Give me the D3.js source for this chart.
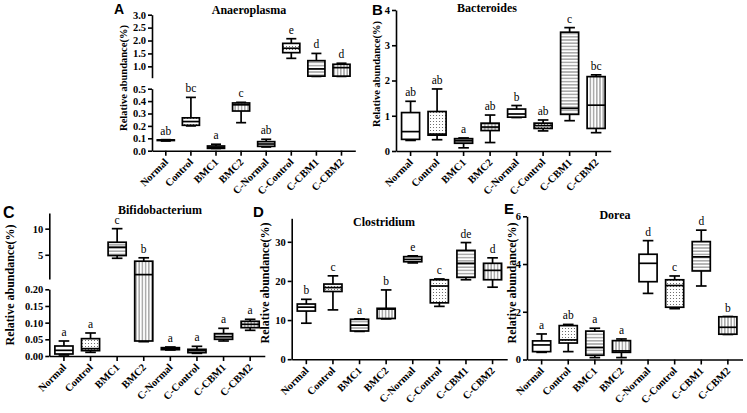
<!DOCTYPE html>
<html><head><meta charset="utf-8">
<script src="https://cdn.jsdelivr.net/npm/d3@7"></script>
<style>body{margin:0;background:#fff}svg{display:block}</style>
</head><body>
<svg id="c" width="747" height="413"></svg>
<script>
const categories = ["Normal","Control","BMC1","BMC2","C-Normal","C-Control","C-CBM1","C-CBM2"];

// [min, q1, median, q3, max] per category
const anaeroplasma = [[0.078,0.082,0.085,0.087,0.089],[0.20,0.205,0.235,0.265,0.43],[0.018,0.019,0.028,0.038,0.052],[0.226,0.32,0.37,0.385,0.39],[0.03,0.035,0.054,0.073,0.092],[1.31,1.53,1.70,1.89,2.07],[0.61,0.62,0.90,1.22,1.50],[0.61,0.62,0.95,1.08,1.12]];
const anaeroplasmaLetters = ["ab","bc","a","c","ab","e","d","d"];
const anaeroplasmaTicksLow = [0,0.1,0.2,0.3,0.4,0.5];
const anaeroplasmaTicksHigh = [1.0,1.5,2.0,2.5,3.0];

const bacteroides = [[0.30,0.33,0.55,1.09,1.41],[0.32,0.45,0.48,1.12,1.76],[0.09,0.22,0.29,0.35,0.37],[0.24,0.58,0.68,0.79,1.02],[0.95,0.96,1.05,1.19,1.29],[0.57,0.64,0.72,0.79,0.88],[0.86,1.04,1.21,3.37,3.50],[0.52,0.64,1.30,2.11,2.16]];
const bacteroidesLetters = ["ab","ab","a","ab","b","ab","c","bc"];
const bacteroidesTicks = [0,1,2,3,4];

const bifidobacterium = [[0.003,0.006,0.017,0.030,0.045],[0.011,0.016,0.022,0.052,0.069],[4.33,4.85,6.45,7.4,10.0],[0.043,0.045,1.2,3.77,4.42],[0.018,0.019,0.022,0.025,0.027],[0.008,0.010,0.016,0.020,0.029],[0.045,0.050,0.058,0.067,0.083],[0.077,0.085,0.095,0.104,0.11]];
const bifidobacteriumLetters = ["a","a","c","b","a","a","a","a"];
const bifidobacteriumTicksLow = [0,0.05,0.10,0.15,0.20];
const bifidobacteriumTicksHigh = [5,10];

const clostridium = [[9.2,12.3,13.3,14.1,15.3],[12.6,17.3,18.3,19.2,21.3],[7.1,7.2,8.7,10.2,10.3],[10.3,10.4,12.8,13.0,17.7],[24.6,24.9,25.5,26.2,26.4],[13.5,14.4,18.7,20.3,20.5],[20.3,20.9,24.5,27.8,29.8],[18.4,20.3,22.7,24.5,25.9]];
const clostridiumLetters = ["b","c","a","b","e","c","de","d"];
const clostridiumTicks = [0,10,20,30];

const dorea = [[0.30,0.33,0.61,0.78,1.07],[0.33,0.69,0.82,1.42,1.47],[0.08,0.18,0.5,1.19,1.31],[0.08,0.30,0.36,0.79,0.86],[2.77,3.26,4.03,4.41,4.98],[2.13,2.19,3.10,3.34,3.50],[3.08,3.71,4.3,4.94,5.42],[1.05,1.06,1.35,1.79,1.80]];
const doreaLetters = ["a","ab","a","a","d","c","d","b"];
const doreaTicks = [0,2,4,6];

const fills = ["none","dots","hlines","vlines","none","dots","hlines","vlines"];

const panels = [
  {tag:"A", title:"Anaeroplasma", data:anaeroplasma, letters:anaeroplasmaLetters, x0:152, x1:355.3,
   segs:[{dom:[0,0.5], rng:[150.7,88.7], ticks:anaeroplasmaTicksLow, fmt:".1f"},
         {dom:[0.56,3], rng:[77.7,14.7], ticks:anaeroplasmaTicksHigh, fmt:".1f"}],
   titleXY:[249,13.5], tagXY:[114,13.5], tagSize:14, ylab:[123,78], ylabSize:10.5, bmc2:"vlines"},
  {tag:"B", title:"Bacteroides", data:bacteroides, letters:bacteroidesLetters, x0:396, x1:610.7,
   segs:[{dom:[0,4], rng:[151,10], ticks:bacteroidesTicks, fmt:"d"}],
   titleXY:[487,12], tagXY:[372,15], tagSize:15, ylab:[376,74], ylabSize:10.5, bmc2:"grid"},
  {tag:"C", title:"Bifidobacterium", data:bifidobacterium, letters:bifidobacteriumLetters, x0:49.3, x1:264.8,
   segs:[{dom:[0,0.2], rng:[356,289.3], ticks:bifidobacteriumTicksLow, fmt:".2f"},
         {dom:[0.36,13], rng:[279,213], ticks:bifidobacteriumTicksHigh, fmt:"d"}],
   titleXY:[160,214], tagXY:[3,218], tagSize:16, ylab:[10,285], ylabSize:12, bmc2:"vlines"},
  {tag:"D", title:"Clostridium", data:clostridium, letters:clostridiumLetters, x0:291.7, x1:507.2,
   segs:[{dom:[0,36], rng:[359.2,218.3], ticks:clostridiumTicks, fmt:"d"}],
   titleXY:[384,226], tagXY:[253,217], tagSize:15, ylab:[265,283], ylabSize:12, bmc2:"vlines"},
  {tag:"E", title:"Dorea", data:dorea, letters:doreaLetters, x0:527, x1:742.5,
   segs:[{dom:[0,6], rng:[359.5,216.3], ticks:doreaTicks, fmt:"d"}],
   titleXY:[615,219], tagXY:[504,214], tagSize:15, ylab:[512,283], ylabSize:12, bmc2:"vlines"}
];

const svg = d3.select("#c");
const defs = svg.append("defs");
function pat(id, w, h, draw) {
  const p = defs.append("pattern").attr("id", id).attr("patternUnits","userSpaceOnUse").attr("width", w).attr("height", h);
  p.append("rect").attr("width", w).attr("height", h).attr("fill", "#fff");
  draw(p);
}
pat("dots", 3, 3, p => p.append("circle").attr("cx",1.5).attr("cy",1.5).attr("r",0.55).attr("fill","#555"));
pat("hlines", 4, 3.2, p => p.append("line").attr("x1",0).attr("x2",4).attr("y1",1.6).attr("y2",1.6).attr("stroke","#444").attr("stroke-width",0.8));
pat("vlines", 3.2, 4, p => p.append("line").attr("y1",0).attr("y2",4).attr("x1",1.6).attr("x2",1.6).attr("stroke","#444").attr("stroke-width",0.8));
pat("grid", 3.5, 3.5, p => {
  p.append("line").attr("x1",0).attr("x2",3.5).attr("y1",1.75).attr("y2",1.75).attr("stroke","#444").attr("stroke-width",0.7);
  p.append("line").attr("y1",0).attr("y2",3.5).attr("x1",1.75).attr("x2",1.75).attr("stroke","#444").attr("stroke-width",0.7);
});

const serif = "Liberation Serif, Times New Roman, serif";
const sans = "Liberation Sans, Arial, sans-serif";

panels.forEach(P => {
  const g = svg.append("g");
  const x = d3.scaleBand().domain(categories).range([P.x0, P.x1]).paddingInner(0).paddingOuter(0.05);
  const segScales = P.segs.map(s => d3.scaleLinear().domain(s.dom).range(s.rng));
  const y = d3.scaleLinear()
    .domain(P.segs.flatMap(s => s.dom))
    .range(P.segs.flatMap(s => s.rng))
    .clamp(true);
  const baseY = P.segs[0].rng[0];

  P.segs.forEach((s, i) => {
    const ax = g.append("g").attr("transform", `translate(${P.x0},0)`)
      .call(d3.axisLeft(segScales[i]).tickValues(s.ticks).tickFormat(d3.format(s.fmt)).tickSize(4).tickSizeOuter(0).tickPadding(2));
    ax.attr("font-family", serif);
    ax.selectAll("path,line").attr("stroke","#000").attr("stroke-width",1.6);
    ax.selectAll("text").attr("font-family", serif).attr("font-weight","bold").attr("font-size",10.5).attr("fill","#000");
  });

  const xa = g.append("g").attr("transform", `translate(0,${baseY})`)
    .call(d3.axisBottom(x).tickSize(5).tickSizeOuter(0));
  xa.attr("font-family", serif);
  xa.selectAll("path,line").attr("stroke","#000").attr("stroke-width",1.6);
  xa.selectAll(".tick text").attr("x",null).attr("y",null).attr("dy",null)
    .attr("text-anchor","end").attr("transform","translate(3,12) rotate(-45)")
    .attr("font-family", serif).attr("font-weight","bold").attr("font-size",10.5).attr("fill","#000");

  const step = x.step();
  const bw = step * 0.68, cw = step * 0.4;
  categories.forEach((c, i) => {
    const [mn, q1, md, q3, mx] = P.data[i];
    const cx = x(c) + x.bandwidth() / 2;
    const bg = g.append("g").attr("stroke","#000").attr("stroke-width",1.7);
    bg.append("line").attr("x1",cx).attr("x2",cx).attr("y1",y(mx)).attr("y2",y(q3));
    bg.append("line").attr("x1",cx).attr("x2",cx).attr("y1",y(q1)).attr("y2",y(mn));
    bg.append("line").attr("x1",cx-cw/2).attr("x2",cx+cw/2).attr("y1",y(mx)).attr("y2",y(mx));
    bg.append("line").attr("x1",cx-cw/2).attr("x2",cx+cw/2).attr("y1",y(mn)).attr("y2",y(mn));
    let f = fills[i];
    if (i === 3) f = P.bmc2;
    bg.append("rect").attr("x",cx-bw/2).attr("width",bw).attr("y",y(q3)).attr("height",Math.max(0.5,y(q1)-y(q3)))
      .attr("fill", f === "none" ? "#fff" : `url(#${f})`);
    bg.append("line").attr("x1",cx-bw/2).attr("x2",cx+bw/2).attr("y1",y(md)).attr("y2",y(md)).attr("stroke-width",1.7);
    g.append("text").attr("x",cx).attr("y",y(mx)-5).attr("text-anchor","middle")
      .attr("font-family",serif).attr("font-size",11.5).attr("fill","#000").text(P.letters[i]);
  });

  g.append("text").attr("x",P.titleXY[0]).attr("y",P.titleXY[1]).attr("text-anchor","middle")
    .attr("font-family",serif).attr("font-weight","bold").attr("font-size",12).text(P.title);
  g.append("text").attr("x",P.tagXY[0]).attr("y",P.tagXY[1])
    .attr("font-family",sans).attr("font-weight","bold").attr("font-size",P.tagSize).text(P.tag);
  g.append("text").attr("transform",`translate(${P.ylab[0]},${P.ylab[1]}) rotate(-90)`)
    .attr("text-anchor","middle").attr("dominant-baseline","central")
    .attr("font-family",serif).attr("font-weight","bold").attr("font-size",P.ylabSize).text("Relative abundance(%)");
});
</script>
</body></html>
